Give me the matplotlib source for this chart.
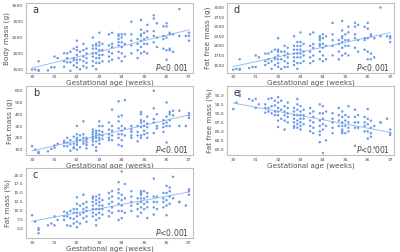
import numpy as np
import matplotlib
matplotlib.use("Agg")
import matplotlib.pyplot as plt

# gestational age (weeks) columns and number of infants in each column
ga_weeks = [30.0, 30.14, 30.29, 30.71, 30.86, 31.0, 31.14, 31.43, 31.57, 31.71, 31.86,
            32.0, 32.14, 32.29, 32.43, 32.71, 32.86, 33.0, 33.14, 33.43, 33.57, 33.86,
            34.0, 34.14, 34.43, 34.71, 34.86, 35.0, 35.14, 35.43, 35.57, 35.86, 36.0,
            36.14, 36.29, 36.57, 36.86, 37.0]
n_per_week = [1, 1, 3, 1, 1, 2, 1, 3, 3, 3, 4,
              7, 3, 5, 5, 7, 7, 7, 4, 5, 5, 7,
              6, 3, 5, 4, 7, 4, 5, 5, 3, 4, 5,
              4, 2, 2, 1, 3]

body_mass = [1490, 1490, 1450, 1480, 1750, 1460, 1560, 1560, 1900, 1850,
             1580, 1750, 2000, 1720, 1850, 2000, 1450, 1720, 2050, 1620, 1780, 1850, 2150,
             1560, 1700, 1800, 1950, 2100, 2200, 2400, 1500, 1800, 2050,
             1600, 1750, 1900, 2100, 2300, 1550, 1700, 1850, 2000, 2150,
             1600, 1750, 1900, 2000, 2150, 2250, 2500, 1500, 1700, 1850, 2000, 2150, 2250, 2300,
             1700, 1850, 1950, 2100, 2250, 2350, 2650, 1750, 1950, 2100, 2300,
             1750, 1900, 2050, 2250, 2600, 1800, 2000, 2200, 2300, 2650,
             1850, 2050, 2250, 2350, 2450, 2550, 2600,
             1750, 2000, 2200, 2350, 2500, 2600, 1900, 2300, 2600,
             2000, 2250, 2400, 2600, 3000, 1850, 2100, 2300, 2450,
             2000, 2200, 2400, 2550, 2600, 2750, 3050, 2050, 2300, 2450, 2650,
             2000, 2300, 2500, 2700, 2900, 2350, 2550, 2700, 3100, 3200, 2200, 2500, 2950,
             2150, 2450, 2550, 2850, 1800, 2100, 2500, 2850, 2950,
             2100, 2150, 2600, 2650, 2050, 2600, 2550, 3400, 2550, 2400, 2550, 2650]

fat_mass = [130, 100, 70, 75, 80, 85, 105, 115, 135, 150,
            130, 160, 175, 130, 160, 200, 90, 145, 180, 110, 120, 150, 210,
            100, 140, 160, 180, 200, 230, 300, 120, 180, 220,
            150, 170, 200, 230, 340, 110, 140, 160, 180, 200,
            140, 170, 190, 210, 230, 250, 270, 90, 120, 170, 200, 220, 240, 260,
            150, 180, 200, 230, 260, 300, 340, 190, 220, 250, 300,
            180, 200, 230, 270, 330, 180, 220, 260, 300, 440,
            140, 200, 230, 280, 340, 380, 510,
            130, 180, 230, 260, 300, 390, 220, 280, 520,
            200, 220, 250, 270, 300, 170, 220, 250, 300,
            200, 220, 290, 330, 350, 400, 420, 230, 260, 300, 340,
            200, 240, 290, 320, 380, 240, 330, 360, 450, 600, 280, 300, 400,
            250, 290, 320, 350, 160, 300, 330, 380, 500,
            300, 350, 400, 420, 390, 430, 300, 430, 300, 370, 390, 410]

fat_pct = [8.8, 7.0, 3.8, 4.7, 5.2, 6.0, 6.5, 6.0, 8.5, 7.5,
           7.5, 8.5, 9.8, 6.0, 8.5, 9.5, 5.8, 8.0, 10.0, 6.5, 7.8, 9.5, 10.5,
           5.5, 7.0, 8.5, 9.5, 10.5, 12.0, 13.8, 6.5, 9.0, 11.5,
           8.0, 9.5, 10.5, 12.0, 14.5, 7.0, 8.5, 10.0, 11.0, 12.5,
           8.5, 9.5, 10.5, 11.5, 12.5, 13.5, 14.0, 6.0, 7.5, 9.0, 10.5, 12.0, 13.0, 14.0,
           8.0, 9.5, 10.5, 11.5, 12.5, 13.5, 14.5, 9.0, 10.5, 11.5, 13.0,
           8.5, 10.0, 12.0, 13.5, 15.0, 9.5, 11.0, 12.5, 14.0, 15.5,
           7.5, 10.0, 12.0, 13.5, 15.0, 16.0, 18.0,
           8.0, 10.0, 11.5, 13.0, 14.5, 21.0, 9.5, 13.5, 17.5,
           10.0, 11.5, 12.5, 14.0, 15.5, 8.5, 10.5, 12.0, 13.5,
           9.5, 11.0, 12.5, 13.5, 14.5, 15.0, 15.5, 10.5, 12.0, 13.5, 15.5,
           8.0, 11.0, 12.5, 14.0, 15.0, 9.0, 11.0, 12.5, 14.0, 19.0, 10.5, 12.5, 14.0,
           11.0, 12.5, 13.5, 15.0, 8.8, 11.5, 13.0, 15.0, 17.0,
           12.0, 14.0, 15.5, 16.5, 13.5, 19.5, 12.5, 12.5, 11.5, 14.5, 15.5, 16.0]

fat_free_mass = [1380, 1400, 1380, 1400, 1650, 1420, 1450, 1450, 1750, 1700,
                 1500, 1600, 1800, 1550, 1650, 1800, 1400, 1600, 1850, 1500, 1650, 1700, 1900,
                 1450, 1550, 1650, 1750, 1850, 1900, 2200, 1400, 1650, 1850,
                 1450, 1600, 1750, 1850, 2000, 1450, 1550, 1700, 1800, 1950,
                 1500, 1600, 1700, 1800, 1900, 2000, 2250, 1400, 1550, 1700, 1800, 1900, 2000, 2100,
                 1550, 1700, 1800, 1900, 2000, 2100, 2350, 1600, 1750, 1850, 2050,
                 1550, 1700, 1850, 2000, 2300, 1600, 1750, 1950, 2050, 2350,
                 1650, 1850, 2000, 2050, 2150, 2200, 2250,
                 1600, 1750, 1950, 2050, 2200, 2300, 1650, 2000, 2250,
                 1750, 2000, 2150, 2300, 2600, 1650, 1850, 2050, 2150,
                 1750, 1950, 2100, 2200, 2250, 2400, 2650, 1800, 2000, 2150, 2300,
                 1750, 2000, 2150, 2350, 2500, 1950, 2200, 2300, 2500, 2600, 1850, 2150, 2550,
                 1900, 2150, 2200, 2500, 1650, 1850, 2200, 2450, 2600,
                 1650, 1800, 2250, 2300, 1700, 2200, 2250, 3000, 2250, 2100, 2200, 2250]

fat_free_pct = [91.2, 93.0, 96.2, 95.3, 94.8, 94.0, 93.5, 94.0, 91.5, 92.5,
                92.5, 91.5, 90.2, 94.0, 91.5, 90.5, 94.2, 92.0, 90.0, 93.5, 92.2, 90.5, 89.5,
                94.5, 93.0, 91.5, 90.5, 89.5, 88.0, 86.2, 93.5, 91.0, 88.5,
                92.0, 90.5, 89.5, 88.0, 85.5, 93.0, 91.5, 90.0, 89.0, 87.5,
                91.5, 90.5, 89.5, 88.5, 87.5, 86.5, 86.0, 94.0, 92.5, 91.0, 89.5, 88.0, 87.0, 86.0,
                92.0, 90.5, 89.5, 88.5, 87.5, 86.5, 85.5, 91.0, 89.5, 88.5, 87.0,
                91.5, 90.0, 88.0, 86.5, 85.0, 90.5, 89.0, 87.5, 86.0, 84.5,
                92.5, 90.0, 88.0, 86.5, 85.0, 84.0, 82.0,
                92.0, 90.0, 88.5, 87.0, 85.5, 79.0, 90.5, 86.5, 82.5,
                90.0, 88.5, 87.5, 86.0, 84.5, 91.5, 89.5, 88.0, 86.5,
                90.5, 89.0, 87.5, 86.5, 85.5, 85.0, 84.5, 89.5, 88.0, 86.5, 84.5,
                92.0, 89.0, 87.5, 86.0, 85.0, 91.0, 89.0, 87.5, 86.0, 81.0, 89.5, 87.5, 86.0,
                89.0, 87.5, 86.5, 85.0, 91.2, 88.5, 87.0, 85.0, 83.0,
                88.0, 86.0, 84.5, 83.5, 86.5, 80.5, 87.5, 87.5, 88.5, 85.5, 84.5, 84.0]

x_ticks = [30, 31, 32, 33, 34, 35, 36, 37]

panels = [
    ("a", body_mass, "Body mass (g)", [1500, 2000, 2500, 3000, 3500], (1390, 3580), "{:.0f}",
     [0.065, 0.7115, 0.4175, 0.2754]),
    ("b", fat_mass, "Fat mass (g)", [100, 200, 300, 400, 500, 600], (50, 640), "{:.0f}",
     [0.065, 0.383, 0.4175, 0.2758]),
    ("c", fat_pct, "Fat mass (%)", [5.0, 7.5, 10.0, 12.5, 15.0, 17.5, 20.0], (2.5, 21.9), "{:.1f}",
     [0.065, 0.056, 0.4175, 0.2766]),
    ("d", fat_free_mass, "Fat free mass (g)", [1500, 1750, 2000, 2250, 2500, 2750, 3000], (1300, 3110), "{:.0f}",
     [0.568, 0.7115, 0.4175, 0.2754]),
    ("e", fat_free_pct, "Fat free mass (%)", [80.0, 82.5, 85.0, 87.5, 90.0, 92.5, 95.0], (78.3, 97.6), "{:.1f}",
     [0.568, 0.383, 0.4175, 0.2758]),
]

x = np.repeat(np.array(ga_weeks), n_per_week)

fig = plt.figure(figsize=(4.0, 2.52), dpi=100)
for letter, vals, ylabel, yticks, ylim, fmt, pos in panels:
    y = np.array(vals, dtype=float)
    ax = fig.add_axes(pos)
    ax.scatter(x, y, s=3.2, color="#6d9bea", edgecolors="none", zorder=3)
    slope, icpt = np.polyfit(x, y, 1)
    xl = np.array([30.0, 37.0])
    ax.plot(xl, slope * xl + icpt, color="#9cbdf0", lw=0.7, zorder=2)
    ax.set_xlim(29.73, 37.18)
    ax.set_ylim(*ylim)
    ax.set_xticks(x_ticks)
    ax.set_xticklabels([str(t) for t in x_ticks])
    ax.set_yticks(yticks)
    ax.set_yticklabels([fmt.format(t) for t in yticks])
    ax.tick_params(labelsize=3.2, length=1.0, width=0.4, pad=1.0, colors="#999999", labelcolor="#444444")
    for sp in ax.spines.values():
        sp.set_color("#c0c0c0")
        sp.set_linewidth(0.8)
    ax.set_xlabel("Gestational age (weeks)", fontsize=5.2, color="#555555", labelpad=0.3)
    ax.set_ylabel(ylabel, fontsize=5.3, color="#555555", labelpad=1.5)
    ax.text(0.04, 0.9, letter, transform=ax.transAxes, fontsize=7, color="#333333",
            ha="left", va="center")
    ax.text(0.975, 0.08, "$P$<0.001", transform=ax.transAxes, fontsize=5.5, color="#444444",
            ha="right", va="center")

fig.savefig("out.png", dpi=100)
